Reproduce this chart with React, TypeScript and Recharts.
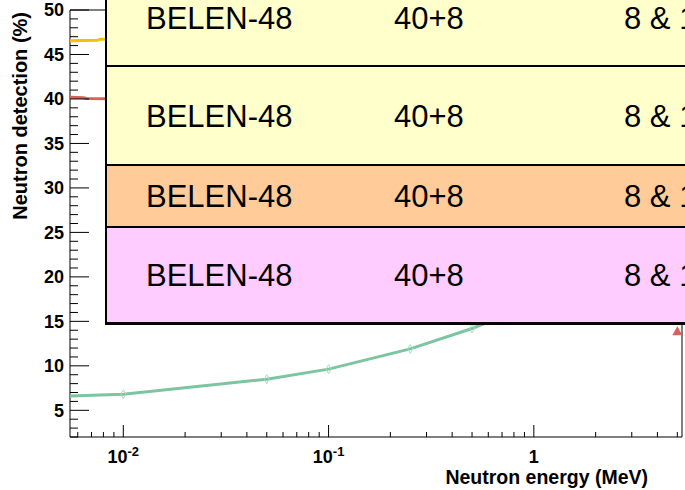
import React from 'react';
import { LineChart, Line, XAxis, YAxis, ReferenceArea } from 'recharts';

// values
const energyTicks = [
  0.006, 0.007, 0.008, 0.009, 0.01,
  0.02, 0.03, 0.04, 0.05, 0.06, 0.07, 0.08, 0.09, 0.1,
  0.2, 0.3, 0.4, 0.5, 0.6, 0.7, 0.8, 0.9, 1,
  2, 3, 4, 5,
];
const detectionTicks = [
  2, 3, 4, 5, 6, 7, 8, 9, 10, 11, 12, 13, 14, 15, 16, 17, 18, 19, 20,
  21, 22, 23, 24, 25, 26, 27, 28, 29, 30, 31, 32, 33, 34, 35, 36, 37, 38, 39, 40,
  41, 42, 43, 44, 45, 46, 47, 48, 49, 50,
];

const yellowSeries = [
  { e: 0.0055, v: 46.55 },
  { e: 0.0075, v: 46.6 },
  { e: 0.0077, v: 46.72 },
  { e: 0.012, v: 46.72 },
];
const redSeries = [
  { e: 0.0055, v: 40.2 },
  { e: 0.0064, v: 40.15 },
  { e: 0.0066, v: 40.05 },
  { e: 0.012, v: 40.0 },
];
const redMarker = [{ e: 5, v: 13.9 }];
const greenSeries = [
  { e: 0.0055, v: 6.62 },
  { e: 0.01, v: 6.8 },
  { e: 0.05, v: 8.5 },
  { e: 0.1, v: 9.63 },
  { e: 0.25, v: 11.9 },
  { e: 0.5, v: 14.2 },
  { e: 1, v: 17.0 },
];

const tableRows = [
  { top: -32, height: 98, fill: '#ffffcc', cells: ['BELEN-48', '40+8', '8 & 16'] },
  { top: 65, height: 99, fill: '#ffffcc', cells: ['BELEN-48', '40+8', '8 & 16'] },
  { top: 164, height: 62, fill: '#ffcc99', cells: ['BELEN-48', '40+8', '8 & 16'] },
  { top: 226, height: 99, fill: '#ffccff', cells: ['BELEN-48', '40+8', '8 & 16'] },
];
const cellLeft = [146, 394, 624];

const FONT = '"Liberation Sans", Arial, sans-serif';
const xMin = 0.0055;
const xMax = 5.27;

function XTick(props: any) {
  const { x, y, payload } = props;
  const lg = Math.log10(payload.value);
  const exp = Math.round(lg);
  const major = Math.abs(lg - exp) < 1e-6;
  return (
    <g>
      <line x1={x} x2={x} y1={y} y2={y - (major ? 12 : 5)} stroke="#000" />
      {major && (
        <text x={x} y={y + 26} textAnchor="middle" fontFamily={FONT} fontWeight="bold" fontSize={18} fill="#000">
          {exp === 0 ? '1' : <>10<tspan dy={-7} fontSize={13}>{exp}</tspan></>}
        </text>
      )}
    </g>
  );
}

function YTick(props: any) {
  const { x, y, payload } = props;
  const major = payload.value % 5 === 0;
  return (
    <g>
      <line x1={x} x2={x + (major ? 19 : 8)} y1={y} y2={y} stroke="#000" />
      {major && (
        <text x={x - 6} y={y} dy="0.36em" textAnchor="end" fontFamily={FONT} fontWeight="bold" fontSize={18} fill="#000">
          {payload.value}
        </text>
      )}
    </g>
  );
}

function Diamond(props: any) {
  const { cx, cy, index } = props;
  if (index === 0 || cx == null) return <g key={'d' + index} />;
  return (
    <polygon
      key={'d' + index}
      points={`${cx},${cy - 4.5} ${cx + 2.5},${cy} ${cx},${cy + 4.5} ${cx - 2.5},${cy}`}
      fill="none"
      stroke="#a8dcc0"
      strokeWidth={1}
    />
  );
}

function Triangle(props: any) {
  const { cx, cy, index } = props;
  if (cx == null) return <g key={'t' + index} />;
  return (
    <polygon
      key={'t' + index}
      points={`${cx},${cy - 5} ${cx + 5},${cy + 4} ${cx - 5},${cy + 4}`}
      fill="#d9605a"
    />
  );
}

export default function App() {
  return (
    <div style={{ position: 'fixed', left: 0, top: 0, width: 685, height: 490, overflow: 'hidden', background: '#fff' }}>
      <LineChart width={685} height={490} margin={{ top: 10, right: 3, bottom: 0, left: 0 }}>
        <XAxis
          dataKey="e"
          type="number"
          scale="log"
          domain={[xMin, xMax]}
          allowDataOverflow
          ticks={energyTicks}
          interval={0}
          tickSize={0}
          tickMargin={0}
          axisLine={false}
          tick={<XTick />}
          height={53}
        />
        <YAxis
          dataKey="v"
          type="number"
          domain={[2, 50]}
          allowDataOverflow
          ticks={detectionTicks}
          interval={0}
          tickSize={0}
          tickMargin={0}
          axisLine={false}
          tick={<YTick />}
          width={70}
        />
        <ReferenceArea x1={xMin} x2={xMax} y1={2} y2={50} fill="none" stroke="#000" strokeWidth={1} />
        <Line data={yellowSeries} dataKey="v" stroke="#f5c200" strokeWidth={3} dot={false} isAnimationActive={false} />
        <Line data={redSeries} dataKey="v" stroke="#d9605a" strokeWidth={3} dot={false} isAnimationActive={false} />
        <Line data={greenSeries} dataKey="v" stroke="#7dc4a0" strokeWidth={3} dot={<Diamond />} isAnimationActive={false} />
        <Line data={redMarker} dataKey="v" stroke="none" dot={<Triangle />} isAnimationActive={false} />
      </LineChart>

      {tableRows.map((row, i) => (
        <div
          key={i}
          style={{
            position: 'absolute',
            left: 105,
            top: row.top,
            width: 700,
            height: row.height,
            boxSizing: 'border-box',
            background: row.fill,
            borderLeft: '2px solid #000',
            borderTop: '2px solid #000',
            borderBottom: i === tableRows.length - 1 ? '3px solid #000' : 'none',
          }}
        >
          {row.cells.map((c, j) => (
            <span
              key={j}
              style={{
                position: 'absolute',
                left: cellLeft[j] - 107,
                top: '50%',
                transform: 'translateY(-50%)',
                fontFamily: FONT,
                fontSize: 31,
                lineHeight: '31px',
                color: '#000',
                whiteSpace: 'nowrap',
              }}
            >
              {c}
            </span>
          ))}
        </div>
      ))}

      <svg width={685} height={490} style={{ position: 'absolute', left: 0, top: 0, pointerEvents: 'none' }}>
        <text x={648} y={484} textAnchor="end" fontFamily={FONT} fontWeight="bold" fontSize={19.5} fill="#000">
          Neutron energy (MeV)
        </text>
        <text
          transform="translate(27,12) rotate(-90)"
          textAnchor="end"
          fontFamily={FONT}
          fontWeight="bold"
          fontSize={20}
          fill="#000"
        >
          Neutron detection (%)
        </text>
      </svg>
    </div>
  );
}
